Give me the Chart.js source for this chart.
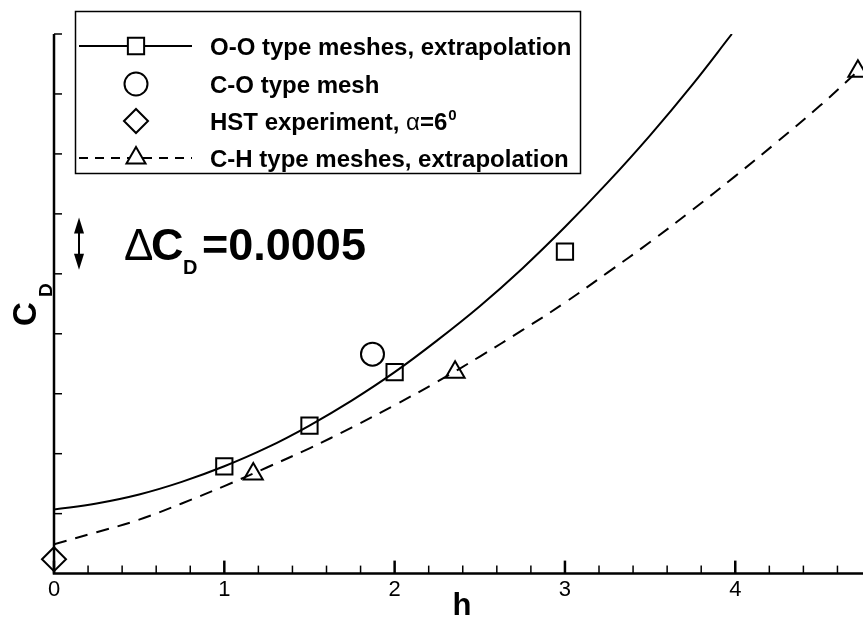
<!DOCTYPE html>
<html lang="en">
<head>
  <meta charset="UTF-8" />
  <title>C_D vs h</title>
  <style>
    html, body { margin: 0; padding: 0; background: #fff; }
    canvas { display: block; }
  </style>
</head>
<body>
  <canvas id="cdChart" width="863" height="617"></canvas>
  <script src="https://cdn.jsdelivr.net/npm/chart.js"></script>
  <script>
    // y values are in units of the (unlabelled) C_D tick spacing
    const hCurveOO = [0, 0.25, 0.5, 0.75, 1, 1.25, 1.5, 1.75, 2, 2.25, 2.5, 2.75, 3, 3.25, 3.5, 3.75, 3.98];
    const cdCurveOO = [1.07, 1.17, 1.32, 1.53, 1.79, 2.10, 2.47, 2.89, 3.36, 3.89, 4.46, 5.09, 5.78, 6.52, 7.31, 8.16, 9.0];
    const hCurveCH = [0, 0.25, 0.5, 0.75, 1, 1.25, 1.5, 1.75, 2, 2.25, 2.5, 2.75, 3, 3.25, 3.5, 3.75, 4, 4.25, 4.5, 4.72];
    const cdCurveCH = [0.49, 0.69, 0.90, 1.17, 1.46, 1.77, 2.09, 2.44, 2.81, 3.20, 3.62, 4.06, 4.52, 5.02, 5.53, 6.07, 6.63, 7.21, 7.81, 8.38];

    const hOO = [1.0, 1.5, 2.0, 3.0];
    const cdOO = [1.79, 2.47, 3.36, 5.37];
    const hCO = [1.87];
    const cdCO = [3.66];
    const hHST = [0];
    const cdHST = [0.24];
    const hCH = [1.17, 2.355, 4.72];
    const cdCH = [1.66, 3.36, 8.38];

    const xTickLabels = ['0', '1', '2', '3', '4'];
    const legendLabels = [
      'O-O type meshes, extrapolation',
      'C-O type mesh',
      'HST experiment, ',
      'C-H type meshes, extrapolation'
    ];

    const FONT = '"Liberation Sans", Arial, Helvetica, sans-serif';
    const pts = (xs, ys) => xs.map((x, i) => ({ x: x, y: ys[i] }));

    function markerSet(label, xs, ys, style, r) {
      return {
        label: label,
        data: pts(xs, ys),
        showLine: false,
        pointStyle: style,
        pointRadius: r,
        pointBorderWidth: 2,
        pointBorderColor: '#000',
        pointBackgroundColor: 'rgba(0,0,0,0)',
        clip: false,
        order: 0
      };
    }

    const decor = {
      id: 'decor',
      afterDraw(chart) {
        const ctx = chart.ctx;
        const xs = chart.scales.x, ys = chart.scales.y;
        const area = chart.chartArea;
        ctx.save();
        ctx.strokeStyle = '#000';
        ctx.fillStyle = '#000';

        // axes
        ctx.lineWidth = 2.5;
        ctx.beginPath();
        ctx.moveTo(area.left, area.top);
        ctx.lineTo(area.left, area.bottom);
        ctx.lineTo(area.right, area.bottom);
        ctx.stroke();

        // inward ticks
        for (let i = 0; i <= 4 * 5 + 3; i++) {
          const px = xs.getPixelForValue(i / 5);
          const len = i % 5 === 0 ? 13 : 8;
          ctx.lineWidth = i % 5 === 0 ? 2.5 : 1.5;
          ctx.beginPath();
          ctx.moveTo(px, area.bottom);
          ctx.lineTo(px, area.bottom - len);
          ctx.stroke();
        }
        ctx.lineWidth = 1.5;
        for (let v = 1; v <= 9; v++) {
          const py = ys.getPixelForValue(v);
          ctx.beginPath();
          ctx.moveTo(area.left, py);
          ctx.lineTo(area.left + 8, py);
          ctx.stroke();
        }

        // axis titles
        ctx.textBaseline = 'alphabetic';
        ctx.textAlign = 'center';
        ctx.font = 'bold 31px ' + FONT;
        ctx.fillText('h', 462, 615);

        ctx.save();
        ctx.translate(36, 326);
        ctx.rotate(-Math.PI / 2);
        ctx.textAlign = 'left';
        ctx.font = 'bold 33px ' + FONT;
        ctx.fillText('C', 0, 0);
        ctx.font = 'bold 19px ' + FONT;
        ctx.fillText('D', 29, 16);
        ctx.restore();

        // delta C_D annotation with double arrow
        const ax = 79;
        const yTop = ys.getPixelForValue(5.94), yBot = ys.getPixelForValue(5.07);
        ctx.lineWidth = 2;
        ctx.beginPath();
        ctx.moveTo(ax, yTop + 10);
        ctx.lineTo(ax, yBot - 10);
        ctx.stroke();
        [[yTop, 1], [yBot, -1]].forEach(([y0, d]) => {
          ctx.beginPath();
          ctx.moveTo(ax, y0);
          ctx.lineTo(ax - 5, y0 + d * 16);
          ctx.lineTo(ax + 5, y0 + d * 16);
          ctx.closePath();
          ctx.fill();
        });
        ctx.textAlign = 'left';
        ctx.font = '44px ' + FONT;
        ctx.fillText('\u0394', 124, 260);
        ctx.font = 'bold 45px ' + FONT;
        ctx.fillText('C', 151, 260);
        ctx.font = 'bold 20px ' + FONT;
        ctx.fillText('D', 183, 274);
        ctx.font = 'bold 45px ' + FONT;
        ctx.fillText('=0.0005', 202, 260);

        // legend
        ctx.lineWidth = 1.5;
        ctx.strokeRect(75.5, 11.5, 505, 162);
        const rows = [46, 84, 121, 158];
        const mx = 136;
        ctx.lineWidth = 2;
        ctx.beginPath();
        ctx.moveTo(79, rows[0]); ctx.lineTo(192, rows[0]);
        ctx.stroke();
        ctx.setLineDash([9, 7]);
        ctx.beginPath();
        ctx.moveTo(79, rows[3]); ctx.lineTo(192, rows[3]);
        ctx.stroke();
        ctx.setLineDash([]);
        const marks = [['rect', 11.5], ['circle', 11.5], ['rectRot', 12], ['triangle', 11]];
        ctx.fillStyle = '#fff';
        marks.forEach(([style, r], i) => {
          Chart.helpers.drawPoint(ctx, { pointStyle: style, radius: r, rotation: 0, borderWidth: 2 }, mx, rows[i]);
        });
        ctx.fillStyle = '#000';
        ctx.textBaseline = 'alphabetic';
        const tx = 210;
        const base = [55, 93, 130, 167];
        ctx.font = 'bold 24px ' + FONT;
        ctx.fillText(legendLabels[0], tx, base[0]);
        ctx.fillText(legendLabels[1], tx, base[1]);
        ctx.fillText(legendLabels[3], tx, base[3]);
        let cx = tx;
        ctx.fillText(legendLabels[2], cx, base[2]);
        cx += ctx.measureText(legendLabels[2]).width;
        ctx.font = '24px ' + FONT;
        ctx.fillText('\u03b1', cx, base[2]);
        cx += ctx.measureText('\u03b1').width;
        ctx.font = 'bold 24px ' + FONT;
        ctx.fillText('=6', cx, base[2]);
        cx += ctx.measureText('=6').width + 1;
        ctx.font = 'bold 15px ' + FONT;
        ctx.fillText('0', cx, base[2] - 10);

        ctx.restore();
      }
    };

    new Chart(document.getElementById('cdChart'), {
      type: 'scatter',
      data: {
        datasets: [
          {
            label: 'O-O curve',
            data: pts(hCurveOO, cdCurveOO),
            showLine: true,
            borderColor: '#000',
            borderWidth: 2,
            pointRadius: 0,
            tension: 0.4,
            order: 1
          },
          {
            label: 'C-H curve',
            data: pts(hCurveCH, cdCurveCH),
            showLine: true,
            borderColor: '#000',
            borderWidth: 2,
            borderDash: [13, 9],
            pointRadius: 0,
            tension: 0.4,
            order: 1
          },
          markerSet('O-O type meshes, extrapolation', hOO, cdOO, 'rect', 11.5),
          markerSet('C-O type mesh', hCO, cdCO, 'circle', 11.5),
          markerSet('HST experiment', hHST, cdHST, 'rectRot', 12),
          markerSet('C-H type meshes, extrapolation', hCH, cdCH, 'triangle', 11)
        ]
      },
      options: {
        responsive: false,
        animation: false,
        events: [],
        layout: { autoPadding: false, padding: { left: 54, top: 34, right: 0, bottom: 11 } },
        plugins: { legend: { display: false }, tooltip: { enabled: false } },
        scales: {
          x: {
            type: 'linear',
            min: 0,
            max: 4.75,
            grid: { display: false, drawTicks: false },
            border: { display: false },
            afterFit: (scale) => { scale.paddingLeft = 0; scale.paddingRight = 0; },
            ticks: {
              stepSize: 0.2,
              autoSkip: false,
              maxRotation: 0,
              padding: 3,
              color: '#000',
              font: { family: FONT, size: 22 },
              callback: (v) => {
                const r = Math.round(v);
                return Math.abs(v - r) < 1e-6 && xTickLabels[r] !== undefined ? xTickLabels[r] : '';
              }
            }
          },
          y: {
            type: 'linear',
            min: 0,
            max: 9,
            grid: { display: false, drawTicks: false },
            border: { display: false },
            ticks: { display: false, stepSize: 1 }
          }
        }
      },
      plugins: [decor]
    });
  </script>
</body>
</html>
